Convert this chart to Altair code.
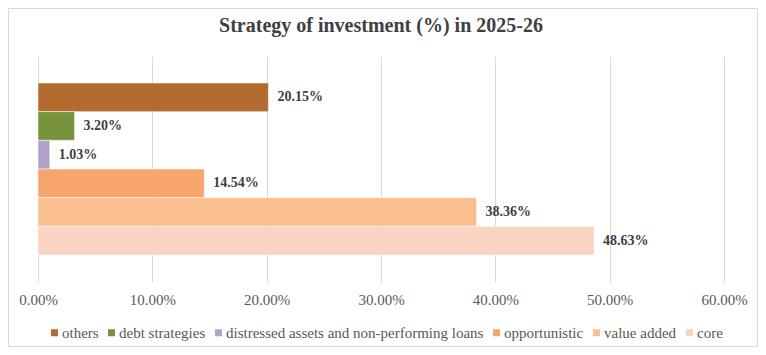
import altair as alt
import pandas as pd

title_text = "Strategy of investment (%) in 2025-26"
strategies = ["others", "debt strategies", "distressed assets and non-performing loans",
              "opportunistic", "value added", "core"]
shares = [20.15, 3.20, 1.03, 14.54, 38.36, 48.63]
colors = ["#B36B30", "#77933C", "#B3A2C7", "#F7A56D", "#F9BF8F", "#F9D4C3"]
tick_values = [0, 10, 20, 30, 40, 50, 60]

df = pd.DataFrame({"strategy": strategies, "share": shares})

W, H = 686, 226
PAD = {"left": 30, "top": 48, "right": 34, "bottom": 65}
SERIF = "Liberation Serif, Times New Roman, serif"

x = alt.X(
    "share:Q",
    scale=alt.Scale(domain=[0, 60], nice=False, zero=True),
    axis=alt.Axis(
        values=tick_values,
        labelExpr="format(datum.value, '.2f') + '%'",
        title=None, domain=False, ticks=False, tickSize=0,
        labelFont=SERIF, labelFontSize=15, labelColor="#595959",
        labelPadding=10, labelFlush=False, labelOverlap=False,
        grid=True, gridColor="#D9D9D9", gridWidth=1,
    ),
)
y = alt.Y("strategy:N", sort=strategies,
          scale=alt.Scale(paddingInner=0, paddingOuter=0.94), axis=None)

color = alt.Color(
    "strategy:N",
    scale=alt.Scale(domain=strategies, range=colors),
    legend=alt.Legend(
        title=None, orient="none", direction="horizontal", columns=6,
        legendX=9, legendY=269, padding=0,
        symbolType="square", symbolSize=49, symbolStrokeWidth=0,
        labelFont=SERIF, labelFontSize=15, labelColor="#595959",
        labelOffset=0, columnPadding=5, labelLimit=1000,
    ),
)

border = alt.Chart(pd.DataFrame({"k": [0]})).mark_rect(
    fillOpacity=0, stroke="#D9D9D9", strokeWidth=1
).encode(
    x=alt.value(-PAD["left"] + 0.5), x2=alt.value(W + PAD["right"] - 0.5),
    y=alt.value(-PAD["top"] + 0.5), y2=alt.value(H + PAD["bottom"] - 0.5),
)

title = alt.Chart(pd.DataFrame({"t": [title_text]})).mark_text(
    font=SERIF, fontSize=20, fontWeight="bold", color="#404040",
    align="center", baseline="alphabetic"
).encode(text="t:N", x=alt.value(W / 2), y=alt.value(-24))

bars = alt.Chart(df).mark_bar(stroke="white", strokeWidth=0.5).encode(
    x=x, y=y, color=color
)

labels = alt.Chart(df).transform_calculate(
    label="format(datum.share, '.2f') + '%'"
).mark_text(
    align="left", baseline="middle", dx=9,
    font=SERIF, fontSize=14, fontWeight="bold", color="#404040"
).encode(x="share:Q", y=alt.Y("strategy:N", sort=strategies), text="label:N")

chart = alt.layer(border, title, bars, labels).properties(
    width=W, height=H, padding=PAD,
    autosize=alt.AutoSizeParams(type="none"),
    background="white",
).configure(font=SERIF).configure_view(stroke="transparent")

chart.save("out.html", embed_options={"renderer": "svg", "actions": False})
